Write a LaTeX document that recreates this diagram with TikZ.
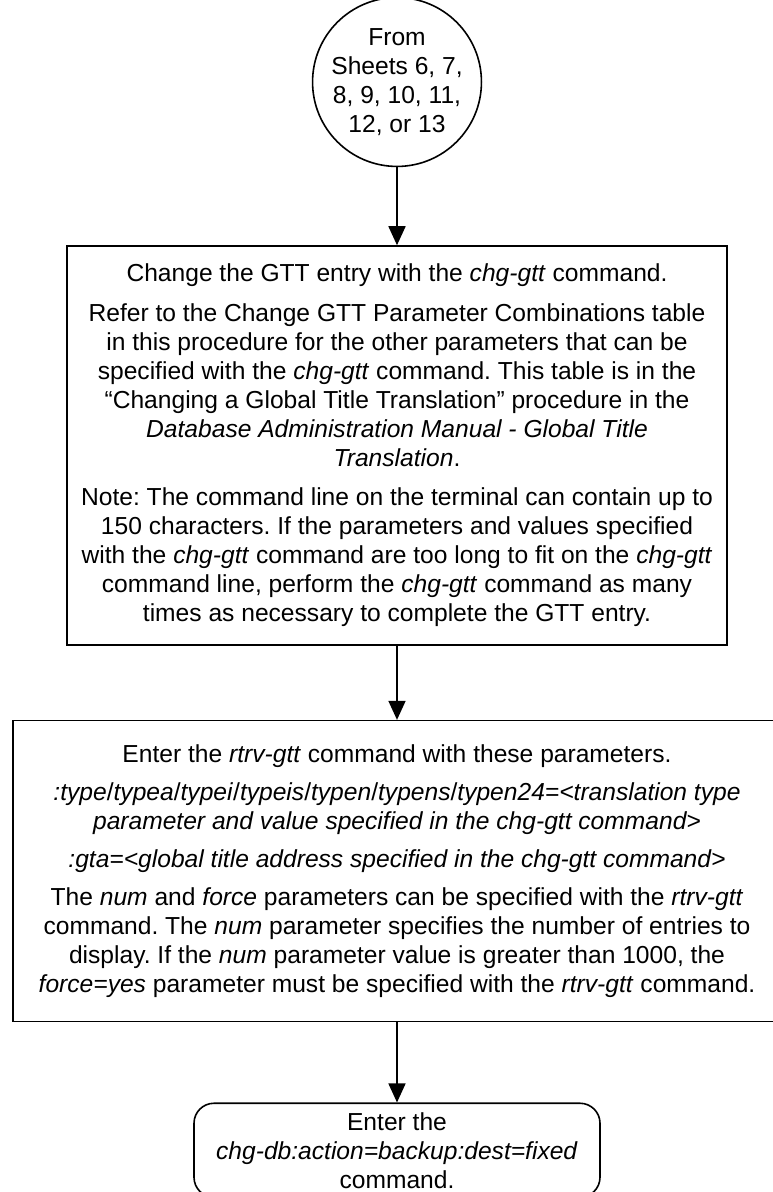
\documentclass[tikz,border=0pt]{standalone}
\usepackage{fontspec}
\setmainfont{Liberation Sans}
\usepackage{tikz}
\usetikzlibrary{arrows.meta,positioning}
\frenchspacing

\begin{document}
\begin{tikzpicture}[
  font=\fontsize{12.3}{14.5}\selectfont,
  conn/.style={draw,circle,line width=0.8pt,minimum size=79pt,inner sep=0pt,
               align=center},
  stepbox/.style={draw,line width=0.8pt,inner sep=0pt,align=center},
  endbox/.style={draw,rounded corners=10pt,line width=0.8pt,inner sep=0pt,
                 align=center,minimum width=203pt,minimum height=47pt},
  arr/.style={-{Triangle[length=9.5pt,width=8.5pt]},line width=0.8pt}
]
\useasboundingbox (0,0) rectangle (386pt,-596pt);
\node[conn] (from) at (198.5pt,-41pt) {From\\Sheets 6, 7,\\8, 9, 10, 11,\\12, or 13};
\node[stepbox,below=39pt of from,minimum width=330pt,minimum height=199.5pt] (chg)
  {Change the GTT entry with the \textit{chg-gtt} command.\\[5.5pt]
   Refer to the Change GTT Parameter Combinations table\\
   in this procedure for the other parameters that can be\\
   specified with the \textit{chg-gtt} command. This table is in the\\
   “Changing a Global Title Translation” procedure in the\\
   \textit{Database Administration Manual - Global Title}\\
   \textit{Translation}.\\[5pt]
   Note: The command line on the terminal can contain up to\\
   150 characters. If the parameters and values specified\\
   with the \textit{chg-gtt} command are too long to fit on the \textit{chg-gtt}\\
   command line, perform the \textit{chg-gtt} command as many\\
   times as necessary to complete the GTT entry.};
\node[stepbox,below=37pt of chg,minimum width=384pt,minimum height=150.5pt] (rtrv)
  {Enter the \textit{rtrv-gtt} command with these parameters.\\[4.5pt]
   \textit{:type}/\textit{typea}/\textit{typei}/\textit{typeis}/\textit{typen}/\textit{typens}/\textit{typen24=<translation type}\\
   \textit{parameter and value specified in the chg-gtt command>}\\[4.5pt]
   \textit{:gta=<global title address specified in the chg-gtt command>}\\[4.5pt]
   The \textit{num} and \textit{force} parameters can be specified with the \textit{rtrv-gtt}\\
   command. The \textit{num} parameter specifies the number of entries to\\
   display. If the \textit{num} parameter value is greater than 1000, the\\
   \textit{force=yes} parameter must be specified with the \textit{rtrv-gtt} command.};
\node[endbox,below=40pt of rtrv] (backup)
  {Enter the\\\textit{chg-db:action=backup:dest=fixed}\\command.};
\draw[arr] (from) -- (chg);
\draw[arr] (chg) -- (rtrv);
\draw[arr] (rtrv) -- (backup);
\end{tikzpicture}
\end{document}
